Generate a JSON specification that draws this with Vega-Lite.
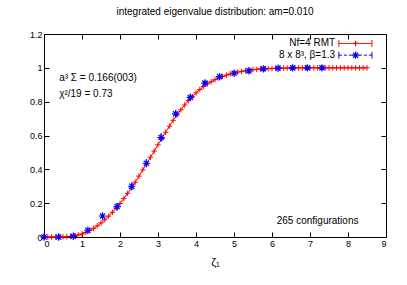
{
  "$schema": "https://vega.github.io/schema/vega-lite/v6.json",
  "width": 342,
  "height": 203,
  "autosize": "none",
  "padding": {"left": 44, "top": 34, "right": 21, "bottom": 48},
  "title": {"text": "integrated eigenvalue distribution: am=0.010", "font": "Liberation Sans", "fontSize": 10, "fontWeight": "normal", "offset": 13, "color": "black"},
  "config": {
    "view": {"stroke": "black", "strokeWidth": 1},
    "axis": {"labelFont": "Liberation Sans", "labelFontSize": 9, "labelColor": "black", "titleFont": "Liberation Sans", "titleFontWeight": "normal", "titleColor": "black", "grid": false, "domain": false, "tickColor": "black", "tickSize": -5}
  },
  "datasets": {
    "rmt": [
      {"x":0.0,"y":0},{"x":0.1,"y":0},{"x":0.2,"y":0},{"x":0.3,"y":0},{"x":0.4,"y":0},
      {"x":0.5,"y":0.001},{"x":0.6,"y":0.002},{"x":0.7,"y":0.004},{"x":0.8,"y":0.007},{"x":0.9,"y":0.012},
      {"x":1.0,"y":0.018},{"x":1.1,"y":0.027},{"x":1.2,"y":0.038},{"x":1.3,"y":0.051},{"x":1.4,"y":0.066},
      {"x":1.5,"y":0.083},{"x":1.6,"y":0.102},{"x":1.7,"y":0.123},{"x":1.8,"y":0.146},{"x":1.9,"y":0.171},
      {"x":2.0,"y":0.198},{"x":2.1,"y":0.227},{"x":2.2,"y":0.258},{"x":2.3,"y":0.29},{"x":2.4,"y":0.324},
      {"x":2.5,"y":0.36},{"x":2.6,"y":0.397},{"x":2.7,"y":0.434},{"x":2.8,"y":0.471},{"x":2.9,"y":0.508},
      {"x":3.0,"y":0.545},{"x":3.1,"y":0.582},{"x":3.2,"y":0.619},{"x":3.3,"y":0.655},{"x":3.4,"y":0.69},
      {"x":3.5,"y":0.722},{"x":3.6,"y":0.752},{"x":3.7,"y":0.78},{"x":3.8,"y":0.806},{"x":3.9,"y":0.83},
      {"x":4.0,"y":0.852},{"x":4.1,"y":0.872},{"x":4.2,"y":0.89},{"x":4.3,"y":0.905},{"x":4.4,"y":0.918},
      {"x":4.5,"y":0.93},{"x":4.6,"y":0.94},{"x":4.7,"y":0.949},{"x":4.8,"y":0.957},{"x":4.9,"y":0.964},
      {"x":5.0,"y":0.97},{"x":5.1,"y":0.975},{"x":5.2,"y":0.979},{"x":5.3,"y":0.983},{"x":5.4,"y":0.986},
      {"x":5.5,"y":0.989},{"x":5.6,"y":0.991},{"x":5.7,"y":0.993},{"x":5.8,"y":0.994},{"x":5.9,"y":0.995},
      {"x":6.0,"y":0.996},{"x":6.1,"y":0.997},{"x":6.2,"y":0.998},{"x":6.3,"y":0.998},{"x":6.4,"y":0.999},
      {"x":6.5,"y":0.999},{"x":6.6,"y":1},{"x":6.7,"y":1},{"x":6.8,"y":1},{"x":6.9,"y":1},
      {"x":7.0,"y":1},{"x":7.1,"y":1},{"x":7.2,"y":1},{"x":7.3,"y":1},{"x":7.4,"y":1},
      {"x":7.5,"y":1},{"x":7.6,"y":1},{"x":7.7,"y":1},{"x":7.8,"y":1},{"x":7.9,"y":1},
      {"x":8.0,"y":1},{"x":8.1,"y":1},{"x":8.2,"y":1},{"x":8.3,"y":1},{"x":8.4,"y":1},{"x":8.5,"y":1}
    ],
    "lat": [
      {"x":0,"y":0,"e":0.003},{"x":0.385,"y":0,"e":0.003},{"x":0.77,"y":0.004,"e":0.004},
      {"x":1.155,"y":0.04,"e":0.012},{"x":1.54,"y":0.124,"e":0.018},{"x":1.925,"y":0.18,"e":0.02},
      {"x":2.31,"y":0.3,"e":0.022},{"x":2.695,"y":0.436,"e":0.025},{"x":3.08,"y":0.588,"e":0.025},
      {"x":3.465,"y":0.728,"e":0.022},{"x":3.85,"y":0.825,"e":0.02},{"x":4.235,"y":0.91,"e":0.016},
      {"x":4.62,"y":0.948,"e":0.012},{"x":5.005,"y":0.968,"e":0.01},{"x":5.39,"y":0.982,"e":0.008},
      {"x":5.775,"y":0.994,"e":0.005},{"x":6.16,"y":0.998,"e":0.003},{"x":6.545,"y":1,"e":0.002},
      {"x":6.93,"y":1,"e":0.001},{"x":7.315,"y":1,"e":0.001}
    ],
    "notesLeft": [
      {"x":0.4,"y":0.94,"label":"a³ Σ = 0.166(003)"},
      {"x":0.4,"y":0.845,"label":"χ²/19 = 0.73"}
    ],
    "notesCenter": [
      {"x":7.2,"y":0.095,"label":"265 configurations"}
    ],
    "notesRight": [
      {"x":7.66,"y":1.144,"label":"Nf=4 RMT"},
      {"x":7.66,"y":1.075,"label":"8 x 8³, β=1.3"}
    ],
    "legline": [
      {"x":7.76,"x2":8.63,"y":1.144,"s":"rmt"},
      {"x":7.76,"x2":8.63,"y":1.075,"s":"lat"}
    ],
    "legtick": [
      {"x":7.76,"y":1.124,"y2":1.164,"s":"rmt"},
      {"x":8.63,"y":1.124,"y2":1.164,"s":"rmt"},
      {"x":7.76,"y":1.055,"y2":1.095,"s":"lat"},
      {"x":8.63,"y":1.055,"y2":1.095,"s":"lat"}
    ],
    "legpt": [
      {"x":8.2,"y":1.144,"s":"rmt"},
      {"x":8.2,"y":1.075,"s":"lat"}
    ]
  },
  "resolve": {"axis": {"x": "independent", "y": "independent"}},
  "layer": [
    {
      "data": {"name": "rmt"},
      "mark": {"type": "line", "color": "#ff0000", "strokeWidth": 1},
      "encoding": {
        "x": {"field": "x", "type": "quantitative", "scale": {"domain": [0, 9], "nice": false}, "axis": {"orient": "bottom", "values": [0,1,2,3,4,5,6,7,8,9], "labelPadding": 7, "title": "ζ₁", "titleFontSize": 11, "titlePadding": 8}},
        "y": {"field": "y", "type": "quantitative", "scale": {"domain": [0, 1.2], "nice": false}, "axis": {"orient": "left", "values": [0,0.2,0.4,0.6,0.8,1,1.2], "format": "~g", "labelPadding": 7, "title": null}}
      }
    },
    {
      "data": {"name": "rmt"},
      "mark": {"type": "point", "shape": "M-1,0H1M0,-1V1", "stroke": "#ff0000", "filled": false, "size": 30, "strokeWidth": 1, "opacity": 1},
      "encoding": {
        "x": {"field": "x", "type": "quantitative", "axis": {"orient": "top", "values": [0,1,2,3,4,5,6,7,8,9], "labels": false, "title": null}},
        "y": {"field": "y", "type": "quantitative", "axis": {"orient": "right", "values": [0,0.2,0.4,0.6,0.8,1,1.2], "labels": false, "title": null}}
      }
    },
    {
      "data": {"name": "lat"},
      "mark": {"type": "errorbar", "color": "#0000ff", "thickness": 1},
      "encoding": {
        "x": {"field": "x", "type": "quantitative", "axis": null},
        "y": {"field": "y", "type": "quantitative", "axis": null},
        "yError": {"field": "e"}
      }
    },
    {
      "data": {"name": "lat"},
      "mark": {"type": "point", "shape": "M-1,0H1M0,-1V1M-0.7,-0.7L0.7,0.7M-0.7,0.7L0.7,-0.7", "stroke": "#0000ff", "filled": false, "size": 55, "strokeWidth": 1.2, "opacity": 1},
      "encoding": {
        "x": {"field": "x", "type": "quantitative", "axis": null},
        "y": {"field": "y", "type": "quantitative", "axis": null}
      }
    },
    {
      "data": {"name": "notesLeft"},
      "mark": {"type": "text", "font": "Liberation Sans", "fontSize": 10, "color": "black", "baseline": "middle", "align": "left"},
      "encoding": {
        "x": {"field": "x", "type": "quantitative", "axis": null},
        "y": {"field": "y", "type": "quantitative", "axis": null},
        "text": {"field": "label"}
      }
    },
    {
      "data": {"name": "notesCenter"},
      "mark": {"type": "text", "font": "Liberation Sans", "fontSize": 10, "color": "black", "baseline": "middle", "align": "center"},
      "encoding": {
        "x": {"field": "x", "type": "quantitative", "axis": null},
        "y": {"field": "y", "type": "quantitative", "axis": null},
        "text": {"field": "label"}
      }
    },
    {
      "data": {"name": "notesRight"},
      "mark": {"type": "text", "font": "Liberation Sans", "fontSize": 10, "color": "black", "baseline": "middle", "align": "right"},
      "encoding": {
        "x": {"field": "x", "type": "quantitative", "axis": null},
        "y": {"field": "y", "type": "quantitative", "axis": null},
        "text": {"field": "label"}
      }
    },
    {
      "data": {"name": "legline"},
      "mark": {"type": "rule", "strokeWidth": 1},
      "encoding": {
        "x": {"field": "x", "type": "quantitative", "axis": null},
        "x2": {"field": "x2"},
        "y": {"field": "y", "type": "quantitative", "axis": null},
        "color": {"field": "s", "type": "nominal", "scale": {"domain": ["rmt", "lat"], "range": ["#ff0000", "#0000ff"]}, "legend": null},
        "strokeDash": {"field": "s", "type": "nominal", "scale": {"domain": ["rmt", "lat"], "range": [[1, 0], [3, 2]]}, "legend": null}
      }
    },
    {
      "data": {"name": "legtick"},
      "mark": {"type": "rule", "strokeWidth": 1},
      "encoding": {
        "x": {"field": "x", "type": "quantitative", "axis": null},
        "y": {"field": "y", "type": "quantitative", "axis": null},
        "y2": {"field": "y2"},
        "color": {"field": "s", "type": "nominal", "scale": {"domain": ["rmt", "lat"], "range": ["#ff0000", "#0000ff"]}, "legend": null}
      }
    },
    {
      "data": {"name": "legpt"},
      "mark": {"type": "point", "filled": false, "strokeWidth": 1.2, "opacity": 1},
      "encoding": {
        "x": {"field": "x", "type": "quantitative", "axis": null},
        "y": {"field": "y", "type": "quantitative", "axis": null},
        "color": {"field": "s", "type": "nominal", "scale": {"domain": ["rmt", "lat"], "range": ["#ff0000", "#0000ff"]}, "legend": null},
        "shape": {"field": "s", "type": "nominal", "scale": {"domain": ["rmt", "lat"], "range": ["M-1,0H1M0,-1V1", "M-1,0H1M0,-1V1M-0.7,-0.7L0.7,0.7M-0.7,0.7L0.7,-0.7"]}, "legend": null},
        "size": {"field": "s", "type": "nominal", "scale": {"domain": ["rmt", "lat"], "range": [30, 55]}, "legend": null}
      }
    }
  ]
}
